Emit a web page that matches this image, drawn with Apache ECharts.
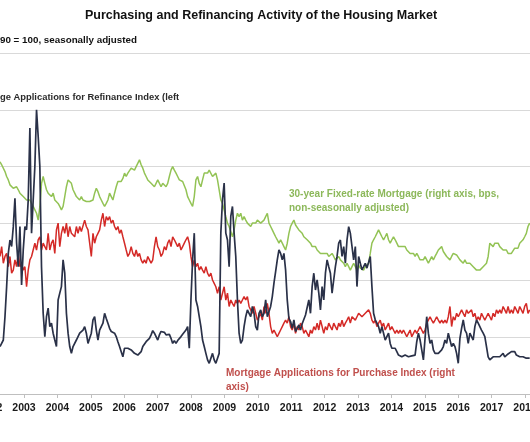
<!DOCTYPE html>
<html>
<head>
<meta charset="utf-8">
<script src="https://cdn.jsdelivr.net/npm/echarts@6/dist/echarts.min.js"></script>
<style>
html,body{margin:0;padding:0;background:#fff;}
#chart{width:530px;height:442px;}
</style>
</head>
<body>
<div id="chart"></div>
<script>
// Time base: semi-monthly observations starting spring 2002 (decimal years)
const startYear = 2002.2814;
const stepYears = 0.049712;

// Year tick labels
const yearTicks = [2002,2003,2004,2005,2006,2007,2008,2009,2010,2011,2012,2013,2014,2015,2016,2017,2018,2019];

// Mortgage Applications for Refinance Index (left axis)
const refinance = [
1670,1730,1900,2720,3780,4950,5420,5190,5890,6890,5310,4480,5890,3840,5070,5890,5780,6830,9360,5660,5660,8010,10000,9060,8010,4480,2840,2020,2720,3020,2370,2490,2140,1900,1670,3310,3550,3780,4720,4250,2840,2140,1670,1430,1670,1730,1900,2020,2140,2200,2250,2370,2140,
1780,1960,2140,2610,2720,2250,1900,2250,2370,2490,2840,2660,2490,2310,2200,2250,2140,2020,1840,1670,1490,1310,1610,1640,1610,1570,1550,1490,1430,1410,1370,1410,1490,1670,1700,1840,1900,1960,2080,2230,2140,2020,1900,2080,2200,2250,2170,2080,2020,2100,1960,1780,1880,
1780,1880,1930,2020,2100,2160,2250,2370,1610,3310,4720,5660,3310,3080,2720,2370,1900,1670,1430,1200,1080,1080,1430,1200,1080,1020,1430,5660,6830,7420,5660,5420,4480,6250,6600,5660,4840,3310,2140,1780,1900,2370,2720,2960,2840,2720,3080,2840,2370,2250,2840,2960,2720,
2840,3310,2720,2720,3080,3430,3900,4310,4720,5070,4950,4720,4950,4370,3310,2660,2550,2310,2610,2200,2310,2430,2250,2470,2490,2780,2720,3310,2840,3780,4250,3660,4020,3550,2960,3780,3310,4250,4720,4480,4250,3550,4020,4480,4840,5310,5420,4840,5190,4600,5420,5890,5660,
5190,4720,5190,3780,4840,4600,4370,4480,4600,4430,4370,4840,3780,2840,2610,2490,2370,2140,2370,2140,1900,2020,2140,1780,1610,1670,1610,1490,1370,1340,1310,1340,1370,1340,1310,1330,1340,1310,1370,1840,2140,1900,1550,1200,1200,2720,2140,1780,1900,1550,1430,1490,1430,
1430,1550,1670,1900,1780,2140,1900,1670,1780,1670,1430,1080,1960,2310,2610,2250,2140,1780,2140,2140,1900,2370,2610,2490,2370,2250,2140,2020,1670,1310,1200,1260,1310,1310,1310,1370,1310,1370,1430,1310,1370,1410,1430,1490,1550,1490,1370,1340,1310,1310,1310,1290,1260,1260,1260
];

// Mortgage Applications for Purchase Index (right axis)
const purchase = [
363,389,345,363,371,336,363,319,327,354,336,371,336,345,327,336,283,327,354,363,363,398,380,407,415,380,398,389,380,424,380,398,407,371,433,451,389,424,442,424,451,415,442,424,429,415,442,424,442,429,433,459,442,
433,398,363,424,398,415,424,433,459,477,442,468,459,468,451,459,442,433,442,424,433,415,398,380,363,371,389,371,363,380,363,371,354,345,354,345,363,354,345,354,389,415,389,380,363,371,389,380,398,407,389,415,407,
398,389,398,380,389,398,407,415,398,363,336,354,336,345,327,336,327,319,336,319,310,319,301,292,283,266,283,248,266,283,248,266,231,248,239,231,248,239,248,239,248,257,248,257,231,222,213,231,213,195,204,213,195,
231,213,239,213,178,160,169,160,151,160,169,178,187,195,187,204,178,169,187,160,178,169,187,178,160,169,160,151,169,160,178,169,187,169,195,178,160,178,169,187,178,169,187,178,169,187,178,195,178,187,195,204,187,
204,200,195,204,213,209,204,209,213,217,222,213,195,187,195,178,187,195,178,187,169,178,187,169,178,169,160,169,160,169,160,169,160,151,160,169,151,160,169,160,169,178,169,160,169,187,195,204,195,187,195,204,195,
187,195,187,195,187,204,231,178,204,195,213,204,213,222,213,204,222,213,213,222,204,213,195,204,195,213,204,195,204,213,204,195,213,204,222,213,222,213,231,222,213,231,213,222,213,231,222,213,231,222,213,231,239,213,222
];

// 30-year Fixed-rate Mortgage (right axis, bps, non-seasonally adjusted)
const mortgageRate = [
613,605,600,587,574,565,552,556,543,539,547,539,530,534,521,521,512,508,512,503,495,486,477,459,495,556,574,556,539,530,534,521,530,512,512,503,495,486,495,521,547,565,569,556,539,530,521,517,512,521,512,517,508,
512,508,503,512,530,543,534,521,512,503,495,503,512,530,521,512,530,547,561,565,561,569,583,574,583,587,596,600,591,600,605,618,605,596,583,574,565,569,556,552,547,556,565,561,547,556,552,547,556,574,591,600,591,
583,574,565,569,561,556,539,521,512,503,495,521,565,574,556,547,565,583,587,583,591,587,574,578,583,565,539,512,503,486,468,451,442,442,415,433,459,477,468,477,459,468,459,451,446,442,451,455,451,459,455,451,446,
459,468,477,451,442,433,424,415,407,398,407,398,389,380,398,424,442,451,459,446,442,433,429,424,415,420,407,402,398,389,385,389,380,376,371,376,371,367,371,363,358,371,363,354,358,363,354,349,345,336,345,336,327,
336,345,336,327,341,332,336,327,336,332,345,371,398,407,415,424,433,424,415,407,415,424,407,398,407,415,407,398,389,393,389,385,389,380,385,371,376,371,363,371,363,354,349,354,363,354,345,354,363,354,363,371,380,
380,389,376,371,363,358,354,363,371,376,367,363,354,349,345,354,345,349,345,341,336,332,327,332,327,332,336,332,345,363,398,398,389,398,393,398,389,385,380,376,380,371,367,371,376,385,380,385,398,402,407,415,424,442,451
];

function toPairs(arr){ return arr.map((v,i)=>[startYear + i*stepYears, v]); }

const chart = echarts.init(document.getElementById('chart'), null, {renderer:'canvas'});
const FONT = '"Liberation Sans",Arial,sans-serif';

chart.setOption({
  backgroundColor:'#ffffff',
  animation:false,
  grid:{left:-9.4, right:-28.4, top:53, bottom:48, containLabel:false, outerBoundsMode:'none'},
  xAxis:{
    type:'value', min:2002, max:2019, interval:1,
    axisLine:{show:true, lineStyle:{color:'#bfbfbf', width:1}},
    axisTick:{show:true, length:4, lineStyle:{color:'#bfbfbf'}},
    splitLine:{show:false},
    axisLabel:{show:true, margin:9, color:'#1a1a1a', fontSize:10.5, fontWeight:'bold', fontFamily:FONT,
      showMinLabel:true, showMaxLabel:true,
      formatter:function(v){ const y = Math.round(v); return yearTicks.indexOf(y)>=0 ? String(y) : ''; }}
  },
  yAxis:[
    {type:'value', min:0, max:12000, interval:2000, position:'left',
     axisLine:{show:false}, axisTick:{show:false}, axisLabel:{show:false},
     splitLine:{show:true, lineStyle:{color:'#d9d9d9', width:1}}},
    {type:'value', min:0, max:900, interval:150, position:'right',
     axisLine:{show:false}, axisTick:{show:false}, axisLabel:{show:false},
     splitLine:{show:false}}
  ],
  series:[
    {name:'30-year Fixed-rate Mortgage', type:'line', yAxisIndex:1, data:toPairs(mortgageRate), showSymbol:false, symbol:'none',
     lineStyle:{color:'#93c355', width:1.5}, z:2},
    {name:'Mortgage Applications for Purchase Index', type:'line', yAxisIndex:1, data:toPairs(purchase), showSymbol:false, symbol:'none',
     lineStyle:{color:'#d42a27', width:1.5}, z:3},
    {name:'Mortgage Applications for Refinance Index', type:'line', yAxisIndex:0, data:toPairs(refinance), showSymbol:false, symbol:'none',
     lineStyle:{color:'#2a3148', width:1.7}, z:4}
  ],
  graphic:[
    {type:'text', x:261, y:16, style:{text:'Purchasing and Refinancing Activity of the Housing Market', font:'bold 12.5px '+FONT, fill:'#111', textAlign:'center', textVerticalAlign:'middle'}},
    {type:'text', x:0, y:40, style:{text:'90 = 100, seasonally adjusted', font:'bold 9.8px '+FONT, fill:'#111', textAlign:'left', textVerticalAlign:'middle'}},
    {type:'text', x:0, y:97, style:{text:'ge Applications for Refinance Index (left', font:'bold 9.4px '+FONT, fill:'#2b2b2b', textAlign:'left', textVerticalAlign:'middle'}},
    {type:'text', x:289, y:194, style:{text:'30-year Fixed-rate Mortgage (right axis, bps,', font:'bold 10px '+FONT, fill:'#8cb85a', textAlign:'left', textVerticalAlign:'middle'}},
    {type:'text', x:289, y:208, style:{text:'non-seasonally adjusted)', font:'bold 10px '+FONT, fill:'#8cb85a', textAlign:'left', textVerticalAlign:'middle'}},
    {type:'text', x:226, y:373, style:{text:'Mortgage Applications for Purchase Index (right', font:'bold 10px '+FONT, fill:'#c0504d', textAlign:'left', textVerticalAlign:'middle'}},
    {type:'text', x:226, y:387, style:{text:'axis)', font:'bold 10px '+FONT, fill:'#c0504d', textAlign:'left', textVerticalAlign:'middle'}}
  ]
});
</script>
</body>
</html>
